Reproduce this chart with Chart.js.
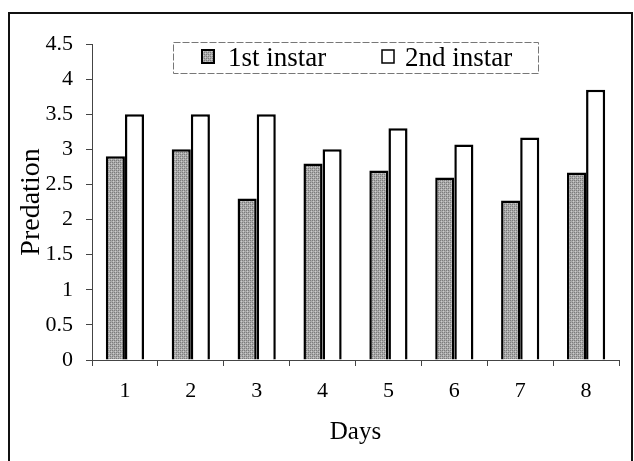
<!DOCTYPE html>
<html>
<head>
<meta charset="utf-8">
<script src="https://cdn.jsdelivr.net/npm/chart.js@4/dist/chart.umd.min.js"></script>
<style>
  html, body { margin: 0; padding: 0; background: #fff; }
  #wrap { width: 634px; height: 461px; position: relative; }
</style>
</head>
<body>
<div id="wrap"><canvas id="chart" width="634" height="461"></canvas></div>
<script>
// values
var days = ["1", "2", "3", "4", "5", "6", "7", "8"];
var firstInstar = [2.9, 3.0, 2.3, 2.8, 2.7, 2.6, 2.27, 2.67];
var secondInstar = [3.5, 3.5, 3.5, 3.0, 3.3, 3.07, 3.17, 3.85];
var yTicks = [0, 0.5, 1, 1.5, 2, 2.5, 3, 3.5, 4, 4.5];

var serif = "'Liberation Serif', 'Times New Roman', serif";

// stippled gray fill for the 1st instar bars
function makeStipple() {
    var c = document.createElement("canvas");
    c.width = 4; c.height = 4;
    var g = c.getContext("2d");
    g.fillStyle = "#aaaaaa";
    g.fillRect(0, 0, 4, 4);
    g.fillStyle = "#7c7c7c";
    g.fillRect(0, 0, 1, 1); g.fillRect(2, 2, 1, 1);
    g.fillRect(2, 0, 1, 1); g.fillRect(0, 2, 1, 1);
    g.fillStyle = "#cccccc";
    g.fillRect(1, 1, 1, 1); g.fillRect(3, 3, 1, 1);
    return g.createPattern(c, "repeat");
}
var stipple = makeStipple();

/*
 frame around the figure + boxed legend
 */
var framePlugin = {
    id: "frame",
    beforeDraw: function (chart) {
        var ctx = chart.ctx;
        ctx.save();
        ctx.strokeStyle = "#111";
        ctx.lineWidth = 2;
        ctx.strokeRect(9, 13, 623, 470);
        ctx.restore();
    },
    afterDraw: function (chart) {
        var ctx = chart.ctx;
        ctx.save();
        // legend box
        ctx.fillStyle = "#fff";
        ctx.fillRect(173, 42, 365, 31);
        ctx.strokeStyle = "#777";
        ctx.lineWidth = 1;
        ctx.setLineDash([7, 2]);
        ctx.strokeRect(173.5, 42.5, 365, 31);
        ctx.setLineDash([]);
        // swatches
        ctx.fillStyle = stipple;
        ctx.fillRect(202, 50, 12, 13);
        ctx.lineWidth = 2;
        ctx.strokeStyle = "#000";
        ctx.strokeRect(202, 50, 12, 13);
        ctx.fillStyle = "#fff";
        ctx.fillRect(382, 50, 12, 13);
        ctx.lineWidth = 1.5;
        ctx.strokeRect(382, 50, 12, 13);
        // labels
        ctx.fillStyle = "#000";
        ctx.font = "27px " + serif;
        ctx.textBaseline = "alphabetic";
        ctx.fillText("1st instar", 228, 66);
        ctx.fillText("2nd instar", 405, 66);
        ctx.restore();
    }
};

var ctx = document.getElementById("chart").getContext("2d");
var myBarChart = new Chart(ctx, {
    type: "bar",
    data: {
        labels: days,
        datasets: [
            {
                label: "1st instar",
                data: firstInstar,
                backgroundColor: stipple,
                borderColor: "#000",
                borderWidth: 2.5,
                borderSkipped: "bottom"
            },
            {
                label: "2nd instar",
                data: secondInstar,
                backgroundColor: "#fff",
                borderColor: "#000",
                borderWidth: 2.5,
                borderSkipped: "bottom"
            }
        ]
    },
    options: {
        responsive: false,
        animation: false,
        devicePixelRatio: 1,
        layout: { padding: { top: 44, right: 15, left: 0, bottom: 0 } },
        plugins: {
            legend: { display: false },
            tooltip: { enabled: false }
        },
        datasets: {
            bar: { categoryPercentage: 0.58, barPercentage: 1.0 }
        },
        scales: {
            x: {
                grid: { display: true, drawOnChartArea: false, color: "#444", tickLength: 6, offset: true },
                border: { display: true, color: "#444", width: 1 },
                ticks: { color: "#000", font: { family: serif, size: 22 }, padding: 12 },
                title: { display: true, text: "Days", color: "#000", font: { family: serif, size: 25 }, padding: { top: 0, bottom: 14 } },
                afterFit: function (scale) { scale.height = 101; }
            },
            y: {
                min: 0,
                max: 4.5,
                afterBuildTicks: function (scale) {
                    scale.ticks = yTicks.map(function (v) { return { value: v }; });
                },
                grid: { display: true, drawOnChartArea: false, color: "#444", tickLength: 6 },
                border: { display: true, color: "#444", width: 1 },
                ticks: {
                    color: "#000",
                    font: { family: serif, size: 22 },
                    padding: 13,
                    callback: function (v) { return String(v); }
                },
                title: { display: true, text: "Predation", color: "#000", font: { family: serif, size: 28 }, padding: { top: 15, bottom: 0 } },
                afterFit: function (scale) { scale.width = 92; }
            }
        }
    },
    plugins: [framePlugin]
});
</script>
</body>
</html>
